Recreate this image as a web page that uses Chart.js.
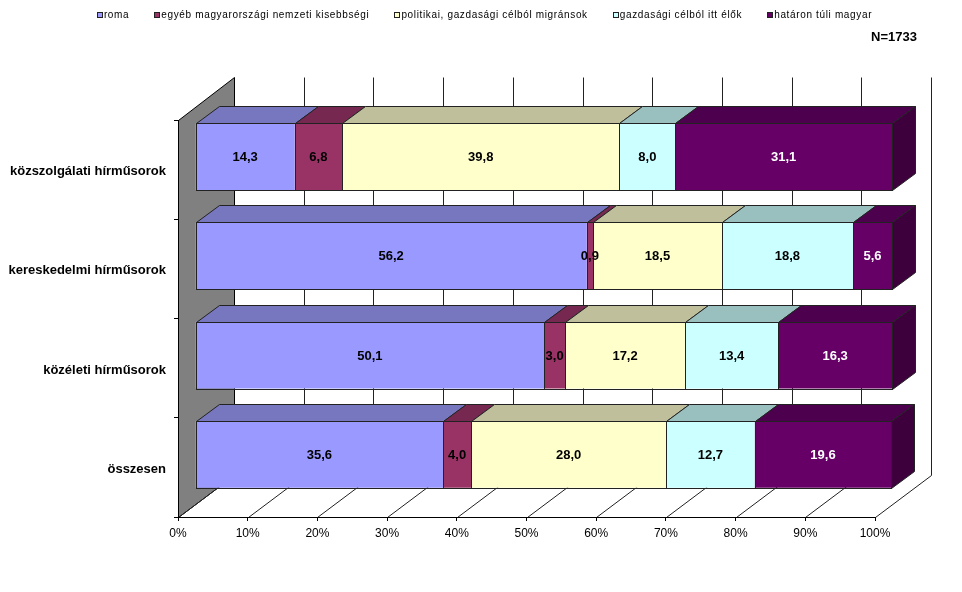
<!DOCTYPE html>
<html lang="hu">
<head>
<meta charset="utf-8">
<title>Hírműsorok</title>
<style>
  html, body { margin: 0; padding: 0; background: #fff; }
  canvas { display: block; }
</style>
</head>
<body>
<canvas id="chart" width="962" height="592"></canvas>
<script src="https://cdn.jsdelivr.net/npm/chart.js@4/dist/chart.umd.min.js"></script>
<script>
const categories = ['közszolgálati hírműsorok', 'kereskedelmi hírműsorok', 'közéleti hírműsorok', 'összesen'];
const seriesNames = ['roma', 'egyéb magyarországi nemzeti kisebbségi', 'politikai, gazdasági célból migránsok', 'gazdasági célból itt élők', 'határon túli magyar'];
const roma = [14.3, 56.2, 50.1, 35.6];
const egyeb = [6.8, 0.9, 3.0, 4.0];
const politikai = [39.8, 18.5, 17.2, 28.0];
const gazdasagi = [8.0, 18.8, 13.4, 12.7];
const hataron = [31.1, 5.6, 16.3, 19.6];
const sampleSize = 'N=1733';

// front, top and side colours of each series
const fronts = ['#9999ff', '#993366', '#ffffcc', '#ccffff', '#660066'];
const tops = ['#7777bf', '#762850', '#bfbf9c', '#99bfbf', '#4d004d'];
const sides = ['#5c5c99', '#5c1f3d', '#99997a', '#7a9999', '#3d003d'];
const labelColors = ['#000', '#000', '#000', '#000', '#fff'];

const FONT = '"Liberation Sans", Arial, sans-serif';
const LINE = '#222';
const LEGEND_SPACING = '0.65px';
// depth of the whole plot box, of the gap in front of a bar and of the bar itself
const BOX_DX = 56, BOX_DY = 42;
const GAP_DX = 17, GAP_DY = 13;
const BAR_DX = 23, BAR_DY = 17;

const snap = v => Math.round(v) + 0.5;

function poly(ctx, pts, fill, stroke) {
  ctx.beginPath();
  pts.forEach((p, i) => i ? ctx.lineTo(p[0], p[1]) : ctx.moveTo(p[0], p[1]));
  ctx.closePath();
  if (fill) { ctx.fillStyle = fill; ctx.fill(); }
  if (stroke) { ctx.strokeStyle = stroke; ctx.lineWidth = 1; ctx.stroke(); }
}

// the walls and floor lines behind the bars
const box3d = {
  id: 'box3d',
  beforeDraw(chart) {
    const { ctx, chartArea: a, scales: { x } } = chart;
    const top = snap(a.top), bottom = snap(a.bottom), left = snap(a.left);
    const backTop = top - BOX_DY - 1;
    ctx.save();
    poly(ctx, [[left, top], [left + BOX_DX, backTop], [left + BOX_DX, bottom - BOX_DY], [left, bottom]], '#808080', '#000');
    ctx.strokeStyle = LINE;
    ctx.lineWidth = 1;
    x.ticks.forEach(t => {
      const px = snap(x.getPixelForValue(t.value));
      ctx.beginPath();
      ctx.moveTo(px, bottom);
      ctx.lineTo(px + BOX_DX, bottom - BOX_DY);
      if (t.value > 0) ctx.lineTo(px + BOX_DX, backTop);
      ctx.stroke();
    });
    ctx.restore();
  },
  beforeDatasetsDraw(chart) {
    chart.ctx.save();
    chart.ctx.translate(GAP_DX, -GAP_DY);
  },
  afterDatasetsDraw(chart) {
    const { ctx, data } = chart;
    const last = data.datasets.length - 1;
    data.datasets.forEach((ds, d) => {
      chart.getDatasetMeta(d).data.forEach(bar => {
        const y0 = snap(bar.y - bar.height / 2), y1 = snap(bar.y + bar.height / 2);
        const xa = snap(bar.base), xb = snap(bar.x);
        ctx.strokeStyle = LINE;
        ctx.lineWidth = 1;
        ctx.strokeRect(xa, y0, xb - xa, y1 - y0);
        poly(ctx, [[xa, y0], [xb, y0], [xb + BAR_DX, y0 - BAR_DY], [xa + BAR_DX, y0 - BAR_DY]], tops[d], LINE);
        if (d === last) {
          poly(ctx, [[xb, y0], [xb + BAR_DX, y0 - BAR_DY], [xb + BAR_DX, y1 - BAR_DY], [xb, y1]], sides[d], LINE);
        }
      });
    });
    ctx.font = 'bold 13px ' + FONT;
    ctx.textAlign = 'center';
    ctx.textBaseline = 'middle';
    data.datasets.forEach((ds, d) => {
      ctx.fillStyle = labelColors[d];
      chart.getDatasetMeta(d).data.forEach((bar, i) => {
        ctx.fillText(ds.data[i].toFixed(1).replace('.', ','), (bar.base + bar.x) / 2, bar.y + 1);
      });
    });
    ctx.restore();
  },
  afterDraw(chart) {
    const ctx = chart.ctx;
    ctx.save();
    // legend markers sit closer to their text than the library allows
    chart.legend.legendHitBoxes.forEach((hit, i) => {
      ctx.fillStyle = fronts[i];
      ctx.strokeStyle = LINE;
      ctx.lineWidth = 1;
      const mx = snap(hit.left), my = snap(hit.top + hit.height / 2 - 3);
      ctx.fillRect(mx, my, 5, 5);
      ctx.strokeRect(mx, my, 5, 5);
    });
    ctx.font = 'bold 13px ' + FONT;
    ctx.fillStyle = '#000';
    ctx.textAlign = 'right';
    ctx.textBaseline = 'middle';
    ctx.fillText(sampleSize, 917, 37);
    ctx.restore();
  }
};

// keeps the legend up at the top and leaves the space under it empty
const legendSpace = {
  id: 'legendSpace',
  start(chart) {
    const legend = chart.legend;
    const fit = legend.fit, draw = legend.draw;
    legend.fit = function () {
      this.ctx.letterSpacing = LEGEND_SPACING;
      fit.call(this);
      this.ctx.letterSpacing = '0px';
      this.height = 135;
    };
    legend.draw = function () {
      this.ctx.letterSpacing = LEGEND_SPACING;
      draw.call(this);
      this.ctx.letterSpacing = '0px';
    };
  }
};

const seriesData = [roma, egyeb, politikai, gazdasagi, hataron];

new Chart(document.getElementById('chart'), {
  type: 'bar',
  data: {
    labels: categories,
    datasets: seriesData.map((values, i) => ({
      label: seriesNames[i],
      data: values,
      backgroundColor: fronts[i],
      borderWidth: 0,
      barPercentage: 0.675,
      categoryPercentage: 1,
      clip: false
    }))
  },
  plugins: [legendSpace, box3d],
  options: {
    indexAxis: 'y',
    responsive: false,
    animation: false,
    layout: { padding: { top: -15, left: 7 } },
    plugins: {
      tooltip: { enabled: false },
      legend: {
        position: 'top',
        onClick: null,
        labels: {
          boxWidth: 2,
          boxHeight: 6,
          padding: 25,
          color: '#000',
          font: { family: FONT, size: 10 },
          generateLabels(chart) {
            return chart.data.datasets.map((ds, i) => ({
              text: ds.label,
              fillStyle: 'transparent',
              strokeStyle: 'transparent',
              lineWidth: 0,
              datasetIndex: i
            }));
          }
        }
      }
    },
    scales: {
      x: {
        stacked: true,
        min: 0,
        max: 100,
        afterFit(scale) { scale.height = 75; },
        border: { color: '#000' },
        grid: { drawOnChartArea: false, color: '#000', tickLength: 4 },
        ticks: {
          stepSize: 10,
          maxRotation: 0,
          autoSkip: false,
          padding: 5,
          color: '#000',
          font: { family: FONT, size: 12 },
          callback: v => v + '%'
        }
      },
      y: {
        stacked: true,
        afterFit(scale) { scale.width = 171; },
        border: { color: '#000' },
        grid: { offset: true, drawOnChartArea: false, color: '#000', tickLength: 4 },
        ticks: {
          padding: 8,
          labelOffset: 2,
          color: '#000',
          font: { family: FONT, size: 13, weight: 'bold' }
        }
      },
      // empty axis, only reserves the room right of the plot
      y2: {
        type: 'linear',
        position: 'right',
        afterFit(scale) { scale.width = 87; },
        border: { display: false },
        grid: { display: false },
        ticks: { display: false }
      }
    }
  }
});
</script>
</body>
</html>
